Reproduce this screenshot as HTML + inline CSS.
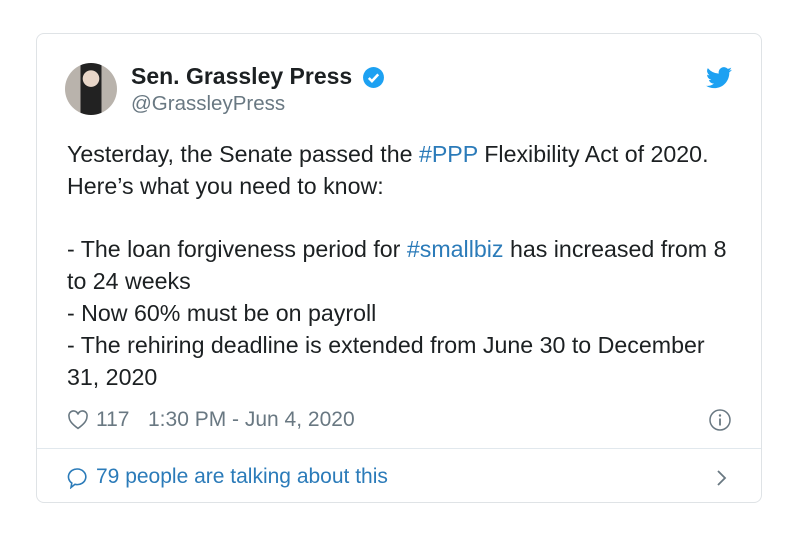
<!DOCTYPE html>
<html><head><meta charset="utf-8"><style>
body{margin:0;width:799px;height:538px;background:#fff;font-family:"Liberation Sans",sans-serif;position:relative;overflow:hidden}
.card{position:absolute;left:36px;top:33px;width:726px;height:470px;border:1px solid #dfe3e6;border-radius:8px;box-sizing:border-box}
.abs{position:absolute;white-space:nowrap}
.line{position:absolute;left:67px;font-size:23.2px;color:#1c2022;white-space:nowrap}
.link{color:#2b7bb9}
</style></head><body>
<div class="card"></div>
<div class="abs" style="left:65px;top:63px;width:52px;height:52px;border-radius:50%;background:radial-gradient(circle at 50% 30%,#e8d6c8 0 18%,transparent 19%),linear-gradient(90deg,#b9b3ac 0 30%,#222 30% 70%,#b9b3ac 70%);"></div>
<div class="abs" style="left:131px;top:63px;font-size:23px;font-weight:bold;color:#1c2022">Sen. Grassley Press</div>
<svg class="abs" style="left:362px;top:66px" width="23" height="23" viewBox="0 0 22 22"><circle cx="11" cy="11" r="10" fill="#1da1f2"/><path d="M6.5 11.5l3 3 6-6.5" stroke="#fff" stroke-width="2.4" fill="none"/></svg>
<div class="abs" style="left:131px;top:92px;font-size:20.5px;color:#697882">@GrassleyPress</div>
<svg class="abs" style="left:706px;top:67px" width="26" height="22" viewBox="0 0 24 20"><path d="M24 2.4a9.8 9.8 0 0 1-2.8.8A5 5 0 0 0 23.3.4a9.9 9.9 0 0 1-3.1 1.2A4.9 4.9 0 0 0 11.8 6 14 14 0 0 1 1.7.9a4.9 4.9 0 0 0 1.5 6.6A4.9 4.9 0 0 1 1 6.9a4.9 4.9 0 0 0 3.9 4.8 4.9 4.9 0 0 1-2.2.1 4.9 4.9 0 0 0 4.6 3.4A9.9 9.9 0 0 1 0 17.2 14 14 0 0 0 7.5 19.4c9.1 0 14-7.5 14-14v-.6A10 10 0 0 0 24 2.4z" fill="#1da1f2"/></svg>
<div class="line" style="top:141px">Yesterday, the Senate passed the <span class="link">#PPP</span> Flexibility Act of 2020.</div>
<div class="line" style="top:173px">Here’s what you need to know:</div>
<div class="line" style="top:236px">- The loan forgiveness period for <span class="link">#smallbiz</span> has increased from 8</div>
<div class="line" style="top:268px">to 24 weeks</div>
<div class="line" style="top:300px">- Now 60% must be on payroll</div>
<div class="line" style="top:332px">- The rehiring deadline is extended from June 30 to December</div>
<div class="line" style="top:364px">31, 2020</div>
<svg class="abs" style="left:67px;top:410px" width="22" height="20" viewBox="0 0 20 19"><path d="M10 17.5C4 13 1.5 10 1.5 6.3A4.3 4.3 0 0 1 10 4.2a4.3 4.3 0 0 1 8.5 2.1C18.5 10 16 13 10 17.5z" stroke="#697882" stroke-width="1.5" fill="none"/></svg>
<div class="abs" style="left:96px;top:408px;font-size:21px;color:#697882">117</div>
<div class="abs" style="left:148px;top:408px;font-size:21px;color:#697882">1:30 PM - Jun 4, 2020</div>
<svg class="abs" style="left:708px;top:408px" width="24" height="24" viewBox="0 0 24 24"><circle cx="12" cy="12" r="10" stroke="#697882" stroke-width="1.5" fill="none"/><circle cx="12" cy="7.5" r="1.2" fill="#697882"/><path d="M12 10.5v7" stroke="#697882" stroke-width="1.8"/></svg>
<div class="abs" style="left:37px;top:448px;width:724px;height:1px;background:#e1e8ed"></div>
<svg class="abs" style="left:66px;top:467px" width="22" height="22" viewBox="0 0 22 22"><path d="M11 2a8.5 7.8 0 1 1-2 15.3L5 20.5l.8-4.5A8.5 7.8 0 0 1 11 2z" stroke="#2b7bb9" stroke-width="1.6" fill="none"/></svg>
<div class="abs" style="left:96px;top:465px;font-size:21px;color:#2b7bb9">79 people are talking about this</div>
<svg class="abs" style="left:714px;top:468px" width="14" height="20" viewBox="0 0 14 20"><path d="M4 3l7 7-7 7" stroke="#697882" stroke-width="1.8" fill="none"/></svg>
</body></html>
